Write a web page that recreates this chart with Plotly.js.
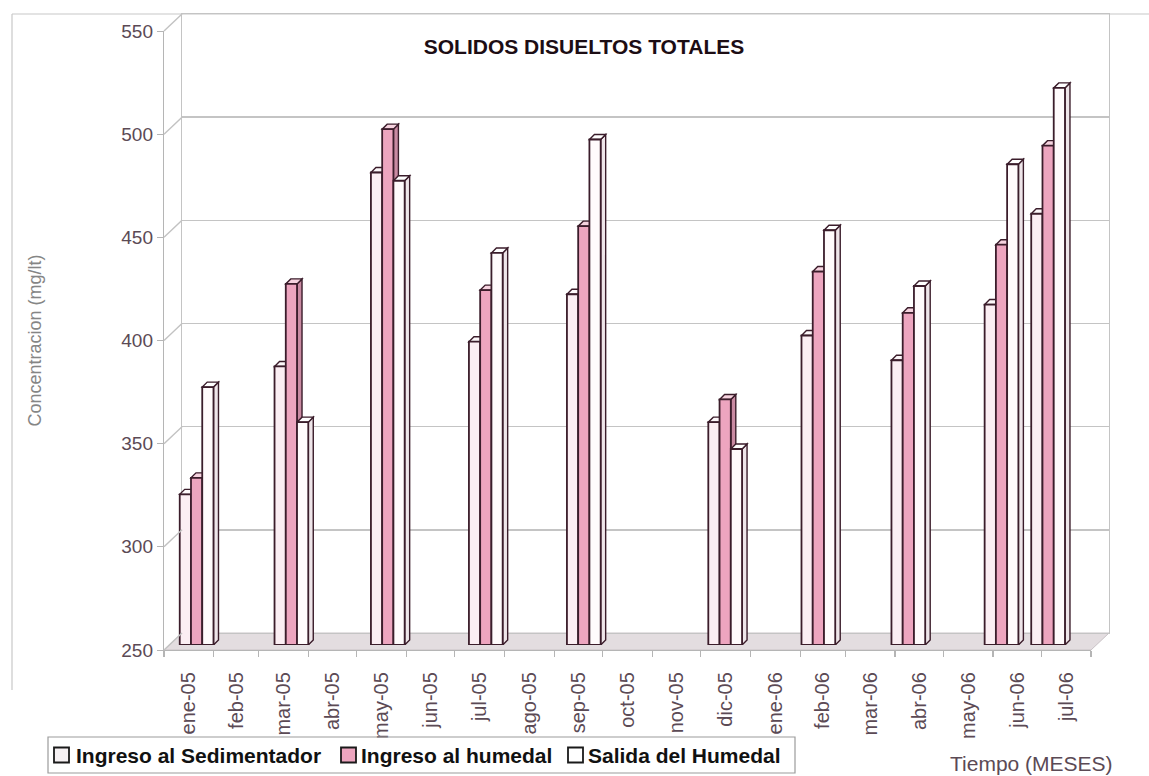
<!DOCTYPE html>
<html>
<head>
<meta charset="utf-8">
<script src="https://cdn.plot.ly/plotly-3.0.1.min.js"></script>
<style>
  html, body { margin: 0; padding: 0; background: #ffffff; }
  #chart { width: 1149px; height: 776px; }
</style>
</head>
<body>
<div id="chart"></div>
<script>
// Month labels for the time axis (Jan 2005 – Jul 2006)
const monthLabels = ['ene-05','feb-05','mar-05','abr-05','may-05','jun-05','jul-05','ago-05',
  'sep-05','oct-05','nov-05','dic-05','ene-06','feb-06','mar-06','abr-06','may-06','jun-06','jul-06'];

// Sampling dates
const sampleDates = ['2005-01-18','2005-03-18','2005-05-17','2005-07-17','2005-09-16',
  '2005-12-13','2006-02-09','2006-04-06','2006-06-03','2006-07-02'];

// Total dissolved solids (mg/lt)
const sedimentador = [323, 385, 479, 397, 420, 358, 400, 388, 415, 459];
const humedal      = [331, 425, 500, 422, 453, 369, 431, 411, 444, 492];
const salida       = [375, 358, 475, 440, 495, 345, 451, 424, 483, 520];

const seriesNames = ['Ingreso al Sedimentador', 'Ingreso al humedal', 'Salida del Humedal'];
const yTicks = [250, 300, 350, 400, 450, 500, 550];

// ---- geometry of the pseudo-3D frame (pixels of a 1149x776 canvas) ----
const W = 1149, H = 776;
const fx = x => x / W;
const fy = y => 1 - y / H;
const FRONT = { x0: 164, x1: 1091, yTop: 31, yBot: 650 };
const DEPTH = { dx: 18, dy: 17 };              // back wall offset
const BAR_DEPTH = { dx: 5.3, dy: 5 };          // plane where the columns stand
const CAP = 5;                                 // visible thickness of each column (px)

const xRange = ['2005-01-01', '2006-08-01'];
const yRange = [250, 550];
const DAY = 86400000;
const barW = 7 * DAY;
const rangeMs = Date.parse(xRange[1] + 'T00:00:00Z') - Date.parse(xRange[0] + 'T00:00:00Z');
const msPerPx = rangeMs / (FRONT.x1 - FRONT.x0);
const pxPerUnit = (FRONT.yBot - FRONT.yTop) / (yRange[1] - yRange[0]);
const barWpx = barW / msPerPx;
const capDv = CAP / pxPerUnit;

const iso = ms => new Date(ms).toISOString().replace('T', ' ').replace('Z', '');

// mid-month positions for the month labels
const monthMid = monthLabels.map((_, i) => {
  const a = Date.UTC(2005, i, 1), b = Date.UTC(2005, i + 1, 1);
  return iso((a + b) / 2);
});

const styles = [
  { fill: '#fbeef3', side: '#efdfe6', cap: '#fdf8fa', key: '#f6f1f3' },
  { fill: '#eda5bf', side: '#c98aa2', cap: '#f6d3df', key: '#eda5bf' },
  { fill: '#fffbfc', side: '#eee5e9', cap: '#ffffff', key: '#ffffff' }
];
const edge = '#3b1d2b';
const offsets = [-1.5 * barW, -0.5 * barW, 0.5 * barW];
const allSeries = [sedimentador, humedal, salida];

const traces = [
  // carriers for the front axes and the back wall
  { type: 'scatter', x: [], y: [], xaxis: 'x', yaxis: 'y', showlegend: false, hoverinfo: 'skip' },
  { type: 'scatter', x: [], y: [], xaxis: 'x2', yaxis: 'y2', showlegend: false, hoverinfo: 'skip' }
];
allSeries.forEach((vals, k) => {
  traces.push({
    type: 'bar',
    name: seriesNames[k],
    x: sampleDates,
    y: vals.map(v => v - yRange[0]),
    base: yRange[0],
    width: barW,
    offset: offsets[k],
    xaxis: 'x3', yaxis: 'y3',
    showlegend: false,
    marker: { color: styles[k].fill, line: { color: edge, width: 1.8 } },
    hovertemplate: '%{x|%d-%m-%Y}: %{y}<extra>' + seriesNames[k] + '</extra>'
  });
});

const shapes = [];
// floor
shapes.push({
  type: 'path', xref: 'paper', yref: 'paper', layer: 'below',
  path: `M${fx(FRONT.x0)},${fy(FRONT.yBot)} L${fx(FRONT.x1)},${fy(FRONT.yBot)} ` +
        `L${fx(FRONT.x1 + DEPTH.dx)},${fy(FRONT.yBot - DEPTH.dy)} L${fx(FRONT.x0 + DEPTH.dx)},${fy(FRONT.yBot - DEPTH.dy)} Z`,
  fillcolor: '#e3dde0', line: { color: '#c9c2c6', width: 1 }
});
// side wall diagonals at each value level
yTicks.forEach(v => {
  const yf = FRONT.yBot - (v - yRange[0]) * pxPerUnit;
  shapes.push({
    type: 'line', xref: 'paper', yref: 'paper', layer: 'above',
    x0: fx(FRONT.x0), y0: fy(yf), x1: fx(FRONT.x0 + DEPTH.dx), y1: fy(yf - DEPTH.dy),
    line: { color: '#c2c2c2', width: 1.4 }
  });
});
// outer chart border (left and top)
shapes.push({ type: 'line', xref: 'paper', yref: 'paper', layer: 'below',
  x0: fx(12), x1: fx(12), y0: fy(14), y1: fy(690), line: { color: '#c8c8c8', width: 1.2 } });
shapes.push({ type: 'line', xref: 'paper', yref: 'paper', layer: 'below',
  x0: fx(12), x1: 1, y0: fy(14), y1: fy(14), line: { color: '#c8c8c8', width: 1.2 } });

// right side face and top face of every column
allSeries.forEach((vals, k) => {
  vals.forEach((v, i) => {
    const d = Date.parse(sampleDates[i] + 'T00:00:00Z');
    const left = d + offsets[k];
    const right = left + barW;
    shapes.push({
      type: 'path', xref: 'x3', yref: 'y3', layer: 'below',
      xsizemode: 'pixel', xanchor: iso(right),
      path: `M0,${yRange[0]} L${CAP},${yRange[0] + capDv} L${CAP},${v + capDv} L0,${v} Z`,
      fillcolor: styles[k].side, line: { color: edge, width: 1.4 }
    });
    shapes.push({
      type: 'path', xref: 'x3', yref: 'y3', layer: 'below',
      xsizemode: 'pixel', xanchor: iso(left),
      path: `M0,${v} L${barWpx},${v} L${barWpx + CAP},${v + capDv} L${CAP},${v + capDv} Z`,
      fillcolor: styles[k].cap, line: { color: edge, width: 1.4 }
    });
  });
});

// legend box with one key per series
const LEG = { x0: 48, x1: 795, y0: 737, y1: 773, keyX: [54, 341, 568], textX: [74, 359, 586], key: 15 };
shapes.push({ type: 'rect', xref: 'paper', yref: 'paper', layer: 'above',
  x0: fx(LEG.x0), x1: fx(LEG.x1), y0: fy(LEG.y1), y1: fy(LEG.y0),
  fillcolor: 'rgba(0,0,0,0)', line: { color: '#9c9c9c', width: 1.2 } });
const legMid = (LEG.y0 + LEG.y1) / 2;
const annotations = [];
seriesNames.forEach((name, k) => {
  shapes.push({ type: 'rect', xref: 'paper', yref: 'paper', layer: 'above',
    x0: fx(LEG.keyX[k]), x1: fx(LEG.keyX[k] + LEG.key),
    y0: fy(legMid + LEG.key / 2), y1: fy(legMid - LEG.key / 2),
    fillcolor: styles[k].key, line: { color: '#1a1a1a', width: 1.8 } });
  annotations.push({
    text: '<b>' + name + '</b>', xref: 'paper', yref: 'paper',
    x: fx(LEG.textX[k]), y: fy(legMid), xanchor: 'left', yanchor: 'middle', showarrow: false,
    font: { family: 'Liberation Sans, Arial, sans-serif', size: 21, color: '#111111' }
  });
});
annotations.push({
  text: 'Tiempo (MESES)', xref: 'paper', yref: 'paper',
  x: fx(1031), y: fy(763), xanchor: 'center', yanchor: 'middle', showarrow: false,
  font: { family: 'Liberation Sans, Arial, sans-serif', size: 21, color: '#5b4a55' }
});

const layout = {
  width: W, height: H,
  margin: { l: 0, r: 0, t: 0, b: 0 },
  paper_bgcolor: '#ffffff',
  plot_bgcolor: 'rgba(0,0,0,0)',
  barmode: 'overlay',
  showlegend: false,
  title: {
    text: '<b>SOLIDOS DISUELTOS TOTALES</b>',
    x: fx(584), y: fy(47), xanchor: 'center', yanchor: 'middle',
    font: { family: 'Liberation Sans, Arial, sans-serif', size: 21, color: '#1c0d14' }
  },
  // front axes
  xaxis: {
    type: 'date', range: xRange, domain: [fx(FRONT.x0), fx(FRONT.x1)], anchor: 'y',
    showgrid: false, zeroline: false,
    showline: true, linecolor: '#b5b5b5', linewidth: 1.2,
    tickmode: 'array', tickvals: monthMid, ticktext: monthLabels,
    ticks: 'outside', ticklen: 13, tickcolor: 'rgba(0,0,0,0)',
    tickangle: -90,
    tickfont: { family: 'Liberation Sans, Arial, sans-serif', size: 20, color: '#5b4a55' },
    minor: { tickmode: 'linear', tick0: '2005-01-01', dtick: 'M1', ticks: 'outside',
             ticklen: 6, tickcolor: '#b5b5b5', tickwidth: 1.2, showgrid: false },
    fixedrange: true
  },
  yaxis: {
    range: yRange, domain: [fy(FRONT.yBot), fy(FRONT.yTop)], anchor: 'x',
    tickvals: yTicks, showgrid: false, zeroline: false,
    showline: true, linecolor: '#b5b5b5', linewidth: 1.2,
    ticks: 'outside', ticklen: 6, tickcolor: '#b5b5b5',
    tickfont: { family: 'Liberation Sans, Arial, sans-serif', size: 19, color: '#5b4a55' },
    title: { text: 'Concentracion (mg/lt)', standoff: 75,
             font: { family: 'Liberation Sans Narrow, Liberation Sans, Arial, sans-serif', size: 18, color: '#858585' } },
    fixedrange: true
  },
  // back wall
  xaxis2: {
    type: 'date', range: xRange, anchor: 'y2',
    domain: [fx(FRONT.x0 + DEPTH.dx), fx(FRONT.x1 + DEPTH.dx)],
    showgrid: false, zeroline: false, showticklabels: false, ticks: '',
    showline: true, mirror: true, linecolor: '#c4c4c4', linewidth: 1.2, fixedrange: true
  },
  yaxis2: {
    range: yRange, anchor: 'x2', tickvals: yTicks,
    domain: [fy(FRONT.yBot - DEPTH.dy), fy(FRONT.yTop - DEPTH.dy)],
    showgrid: true, gridcolor: '#c4c4c4', gridwidth: 1.6,
    zeroline: false, showticklabels: false, ticks: '',
    showline: true, mirror: true, linecolor: '#c4c4c4', linewidth: 1.2, fixedrange: true
  },
  // plane of the columns
  xaxis3: {
    type: 'date', range: xRange, anchor: 'y3', visible: false,
    domain: [fx(FRONT.x0 + BAR_DEPTH.dx), fx(FRONT.x1 + BAR_DEPTH.dx)], fixedrange: true
  },
  yaxis3: {
    range: yRange, anchor: 'x3', visible: false,
    domain: [fy(FRONT.yBot - BAR_DEPTH.dy), fy(FRONT.yTop - BAR_DEPTH.dy)], fixedrange: true
  },
  annotations: annotations,
  shapes: shapes
};

Plotly.newPlot('chart', traces, layout, { displayModeBar: false, staticPlot: true });
</script>
</body>
</html>
